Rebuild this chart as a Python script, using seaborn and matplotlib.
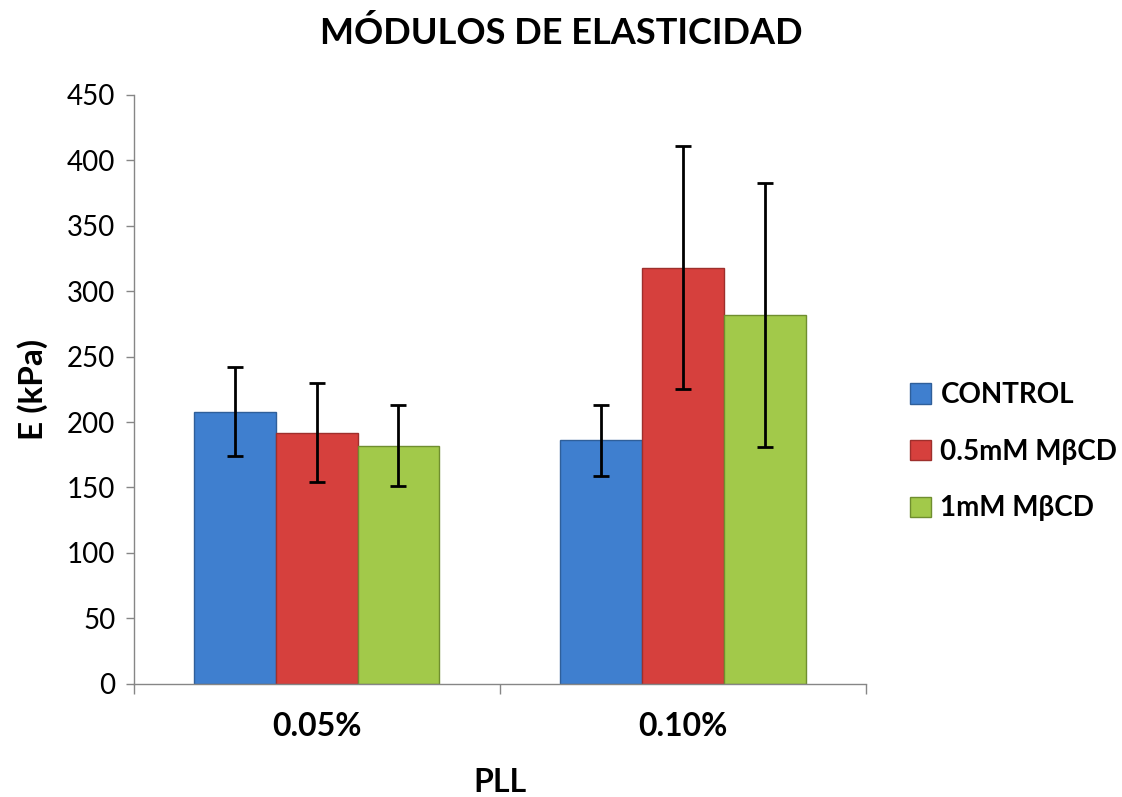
import numpy as np
import pandas as pd
import matplotlib
matplotlib.use("Agg")
import matplotlib.pyplot as plt
import seaborn as sns
from matplotlib.patches import Patch

categories = ["0.05%", "0.10%"]
groups = ["CONTROL", "0.5mM MβCD", "1mM MβCD"]
control_vals = [208, 186]
mbcd05_vals = [192, 318]
mbcd1_vals = [182, 282]
control_err = [34, 27]
mbcd05_err = [38, 93]
mbcd1_err = [31, 101]

colors = ["#3F7FCF", "#D6403D", "#A2C94A"]
edges = ["#2F5F9A", "#9E2F2C", "#6F8E2F"]

sns.set_theme(style="white")
plt.rcParams['font.family'] = ['Lato', 'DejaVu Sans']
plt.rcParams['text.color'] = 'black'
plt.rcParams['axes.labelcolor'] = 'black'
plt.rcParams['xtick.color'] = 'black'
plt.rcParams['ytick.color'] = 'black'

rows = []
for g, vals, errs in zip(groups, [control_vals, mbcd05_vals, mbcd1_vals],
                         [control_err, mbcd05_err, mbcd1_err]):
    for c, v, e in zip(categories, vals, errs):
        rows.append({"PLL": c, "group": g, "E": v, "err": e})
df = pd.DataFrame(rows)

fig = plt.figure(figsize=(11.22, 7.97), dpi=100)
ax = fig.add_axes([0.119, 0.142, 0.653, 0.739])

sns.barplot(data=df, x="PLL", y="E", hue="group", order=categories,
            hue_order=groups, palette=colors, errorbar=None, width=0.67,
            gap=0, ax=ax, legend=False, saturation=1)

# error bars & edges, patches ordered by hue then category
for i, g in enumerate(groups):
    sub = df[df.group == g].set_index("PLL").loc[categories]
    for j, c in enumerate(categories):
        p = ax.patches[i * len(categories) + j]
        p.set_edgecolor(edges[i])
        p.set_linewidth(1.0)
        xc = p.get_x() + p.get_width() / 2
        ax.errorbar(xc, sub.loc[c, "E"], yerr=sub.loc[c, "err"], fmt="none",
                    ecolor="black", elinewidth=2, capsize=6, capthick=2, zorder=5)

ax.set_ylim(0, 450)
ax.set_yticks(np.arange(0, 451, 50))
ax.set_xlim(-0.5, 1.5)
ax.set_xticks([0, 1])
ax.set_xticklabels(categories, fontsize=23, fontweight="bold")
ax.tick_params(axis="y", labelsize=20, length=6, width=1, color="#868686",
               left=True, pad=7)
ax.tick_params(axis="x", length=0, pad=20)
# category boundary ticks
ax.set_xticks([-0.5, 0.5, 1.5], minor=True)
ax.tick_params(axis="x", which="minor", length=7, width=1, color="#868686",
               bottom=True)
for s in ["top", "right"]:
    ax.spines[s].set_visible(False)
for s in ["left", "bottom"]:
    ax.spines[s].set_color("#868686")
    ax.spines[s].set_linewidth(1)

ax.set_xlabel("PLL", fontsize=23, fontweight="bold", labelpad=20)
ax.set_ylabel("E (kPa)", fontsize=24, fontweight="bold", labelpad=14)
fig.text(0.5, 0.958, "MÓDULOS DE ELASTICIDAD", fontsize=26, fontweight="bold",
         ha="center", va="center")

handles = [Patch(facecolor=c, edgecolor=e) for c, e in zip(colors, edges)]
fig.legend(handles, groups, loc="center left", bbox_to_anchor=(0.811, 0.433),
           frameon=False, prop={"weight": "bold", "size": 20},
           handlelength=0.75, handleheight=0.75, handletextpad=0.35,
           labelspacing=1.1, borderaxespad=0, borderpad=0)

fig.savefig("out.png", dpi=100)
